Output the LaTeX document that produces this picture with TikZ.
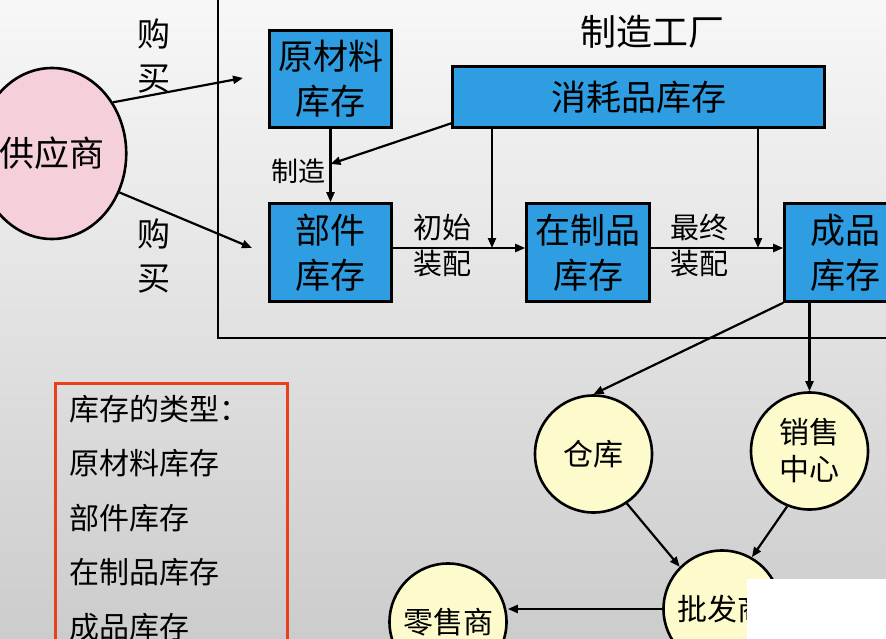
\documentclass[tikz,border=0pt]{standalone}
\usepackage{fontspec}
\setmainfont{Noto Sans CJK SC}
\usetikzlibrary{arrows.meta,shapes.geometric}
\definecolor{stockblue}{RGB}{46,157,226}
\definecolor{supplierpink}{RGB}{245,208,218}
\definecolor{sitecream}{RGB}{253,251,204}
\definecolor{legendred}{RGB}{232,64,28}
\tikzset{
  stock/.style={draw, line width=2.6pt, fill=stockblue, align=center, inner sep=0pt, font=\fontsize{35}{45}\selectfont},
  site/.style={draw, circle, line width=2.6pt, fill=sitecream, minimum size=117pt, inner sep=0pt, align=center, font=\fontsize{30}{37}\selectfont},
  tag/.style={align=center, inner sep=0pt, font=\fontsize{29}{36}\selectfont},
  flow/.style={->, line width=2.2pt}
}
\begin{document}
\begin{tikzpicture}[x=1pt, y=-1pt, >={Triangle[length=10pt, width=8pt]}]
\useasboundingbox (0,0) rectangle (886,639);
\clip (0,0) rectangle (886,639);
\shade[top color=black!3, bottom color=black!20] (0,0) rectangle (886,639);
\draw[line width=2.6pt] (218,-10) -- (218,338) -- (900,338);

\node[font=\fontsize{36}{40}\selectfont] (plant) at (652,32) {制造工厂};
\node[draw, ellipse, line width=2.6pt, fill=supplierpink, minimum width=124pt, minimum height=171pt, inner sep=0pt, font=\fontsize{35}{40}\selectfont] (supplier) at (52,153.5) {供应商};
\node[tag, font=\fontsize{33}{44}\selectfont] (buyraw) at (154,56) {购\\买};
\node[tag, font=\fontsize{33}{44}\selectfont] (buypart) at (154,255.5) {购\\买};

\node[stock, minimum width=122pt, minimum height=97pt] (raw) at (330.5,79) {原材料\\库存};
\node[stock, minimum width=122pt, minimum height=98pt] (part) at (330.5,252.5) {部件\\库存};
\node[stock, minimum width=372pt, minimum height=61pt] (consum) at (638.5,97) {消耗品库存};
\node[stock, minimum width=123pt, minimum height=98pt] (wip) at (588,252.5) {在制品\\库存};
\node[stock, minimum width=121pt, minimum height=98pt] (finished) at (845,252.5) {成品\\库存};

\node[tag, font=\fontsize{27}{30}\selectfont] (make) at (298,171) {制造};
\node[tag] (firstasm) at (442.5,246) {初始\\装配};
\node[tag] (lastasm) at (699.5,245.5) {最终\\装配};

\coordinate (rawin) at (243,78);
\coordinate (partin) at (252,248);
\coordinate (mfg) at (330.5,164);
\coordinate (feedwip) at (492,248);
\coordinate (feedfin) at (758,248);

\draw[flow] (supplier.40) -- (rawin);
\draw[flow] (supplier.-30) -- (partin);
\draw[flow] (raw) -- (part);
\draw[flow] (consum.-172) -- (mfg);
\draw[flow] (consum.south -| feedwip) -- (feedwip);
\draw[flow] (consum.south -| feedfin) -- (feedfin);
\draw[flow] (part.east |- feedwip) -- (wip.west |- feedwip);
\draw[flow] (wip.east |- feedfin) -- (finished.west |- feedfin);

\node[site] (warehouse) at (593.5,454) {仓库};
\node[site] (sales) at (809.5,451) {销售\\中心};
\node[site] (wholesale) at (722,609) {批发商};
\node[site] (retail) at (448,622) {零售商};

\draw[flow] (finished.south west) -- (warehouse.north);
\draw[flow] (finished.south -| sales.north) -- (sales.north);
\draw[flow] (warehouse.-56) -- (wholesale.135);
\draw[flow] (sales.-112) -- (wholesale.60);
\draw[flow] (wholesale.west) -- (retail.east |- wholesale.west);

\node[draw=legendred, line width=2.6pt, anchor=north west, text width=204pt, inner xsep=14pt, inner ysep=0pt, minimum height=269pt, align=left, font=\fontsize{30}{54.5}\selectfont] (types) at (54,382) {库存的类型：\\原材料库存\\部件库存\\在制品库存\\成品库存};

\fill[white] (747,579) rectangle (890,645);
\end{tikzpicture}
\end{document}
